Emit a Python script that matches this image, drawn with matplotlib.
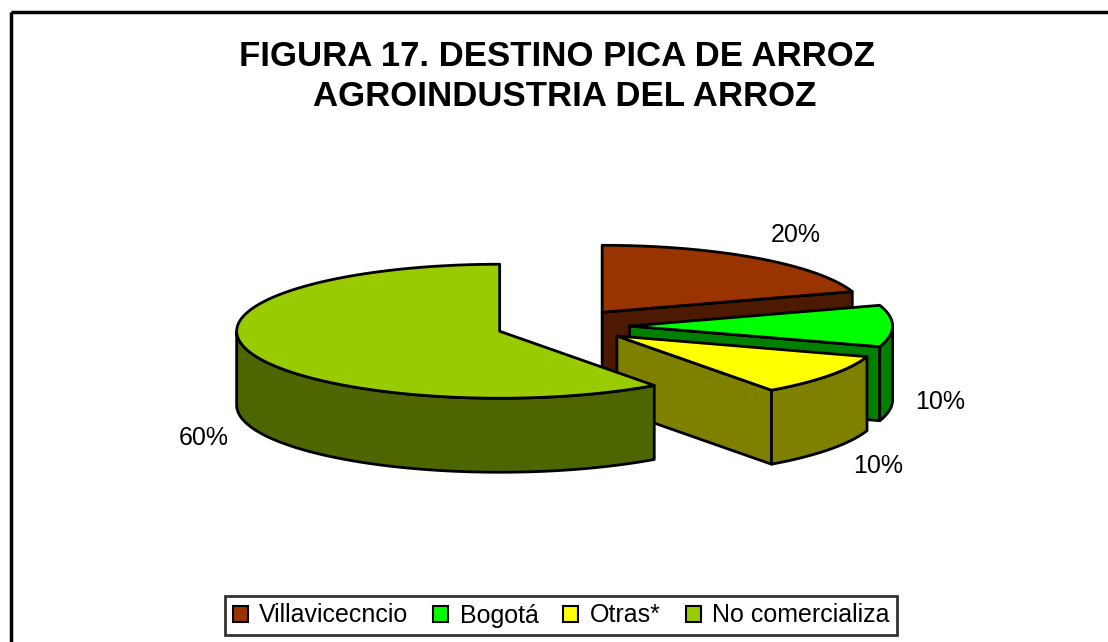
import numpy as np
import matplotlib
matplotlib.use("Agg")
import matplotlib.pyplot as plt
from matplotlib.patches import Polygon, Rectangle, Patch

# datos
categorias = ["Villavicecncio", "Bogotá", "Otras*", "No comercializa"]
valores = [20, 10, 10, 60]
col_sup = ["#993300", "#00ff00", "#ffff00", "#99cc00"]
col_lado = ["#4d1900", "#008000", "#808000", "#4d6600"]

titulo1 = "FIGURA 17. DESTINO PICA DE ARROZ"
titulo2 = "AGROINDUSTRIA DEL ARROZ"

plt.rcParams['font.family'] = ['Liberation Sans', 'DejaVu Sans']

fig = plt.figure(figsize=(11.08, 6.42), dpi=100)
ax = fig.add_axes([0, 0, 1, 1])
ax.set_xlim(0, 1108)
ax.set_ylim(642, 0)
ax.axis("off")

# marco exterior
ax.add_patch(Rectangle((11, 12), 1120, 660, fill=False, ec="black", lw=2.5))

# geometria del pastel (pixeles)
cx, cy = 563, 326
rx, ry = 263, 67
prof = 74
sep = 66.6


def punto(t, ox, oy, dz=0):
    r = np.radians(t)
    return ox + rx * np.cos(r), oy - ry * np.sin(r) + dz


def arco(t1, t2, ox, oy, dz=0):
    ts = np.linspace(t1, t2, max(int(abs(t2 - t1)), 2) + 1)
    return [punto(t, ox, oy, dz) for t in ts]


total = float(sum(valores))
acum = 0.0
lw = 2
for i, v in enumerate(valores):
    t2 = 90 - acum / total * 360
    t1 = t2 - v / total * 360
    acum += v
    m = np.radians((t1 + t2) / 2)
    ox = cx + sep * np.cos(m)
    oy = cy - sep * ry / rx * np.sin(m)

    # caras radiales
    if np.cos(np.radians(t1)) > 1e-6:
        p = punto(t1, ox, oy)
        cara = [(ox, oy), p, (p[0], p[1] + prof), (ox, oy + prof)]
        ax.add_patch(Polygon(cara, closed=True, fc=col_lado[i], ec="black", lw=lw, joinstyle="round"))
    if np.cos(np.radians(t2)) < -1e-6:
        p = punto(t2, ox, oy)
        cara = [(ox, oy), p, (p[0], p[1] + prof), (ox, oy + prof)]
        ax.add_patch(Polygon(cara, closed=True, fc=col_lado[i], ec="black", lw=lw, joinstyle="round"))

    # lado curvo visible (mitad frontal)
    a1, a2 = max(t1, -180), min(t2, 0)
    if a2 > a1:
        lado = arco(a1, a2, ox, oy) + arco(a2, a1, ox, oy, prof)
        ax.add_patch(Polygon(lado, closed=True, fc=col_lado[i], ec="black", lw=lw, joinstyle="round"))

    # cara superior
    sup = [(ox, oy)] + arco(t1, t2, ox, oy)
    ax.add_patch(Polygon(sup, closed=True, fc=col_sup[i], ec="black", lw=lw, joinstyle="round"))

# etiquetas de porcentaje
pos_etiq = [(796, 235), (940, 402), (878, 466), (204, 438)]
for v, (x, y) in zip(valores, pos_etiq):
    ax.text(x, y, f"{v / total * 100:.0f}%", ha="center", va="center", fontsize=18)

# titulo
ax.text(557, 57, titulo1, ha="center", va="center", fontsize=25, fontweight="bold")
ax.text(565, 97, titulo2, ha="center", va="center", fontsize=25, fontweight="bold")

# leyenda
handles = [Patch(fc=c, ec="black", lw=1.5) for c in col_sup]
leg = fig.legend(handles, categorias, loc="center",
                 bbox_to_anchor=(561 / 1108, 1 - 615.5 / 642), ncol=4,
                 fontsize=18, frameon=True, fancybox=False, edgecolor="black",
                 handlelength=0.6, handleheight=0.6, handletextpad=0.45,
                 columnspacing=1.0, borderpad=0.3, borderaxespad=0)
leg.get_frame().set_linewidth(2)

fig.savefig("out.png", dpi=100)
